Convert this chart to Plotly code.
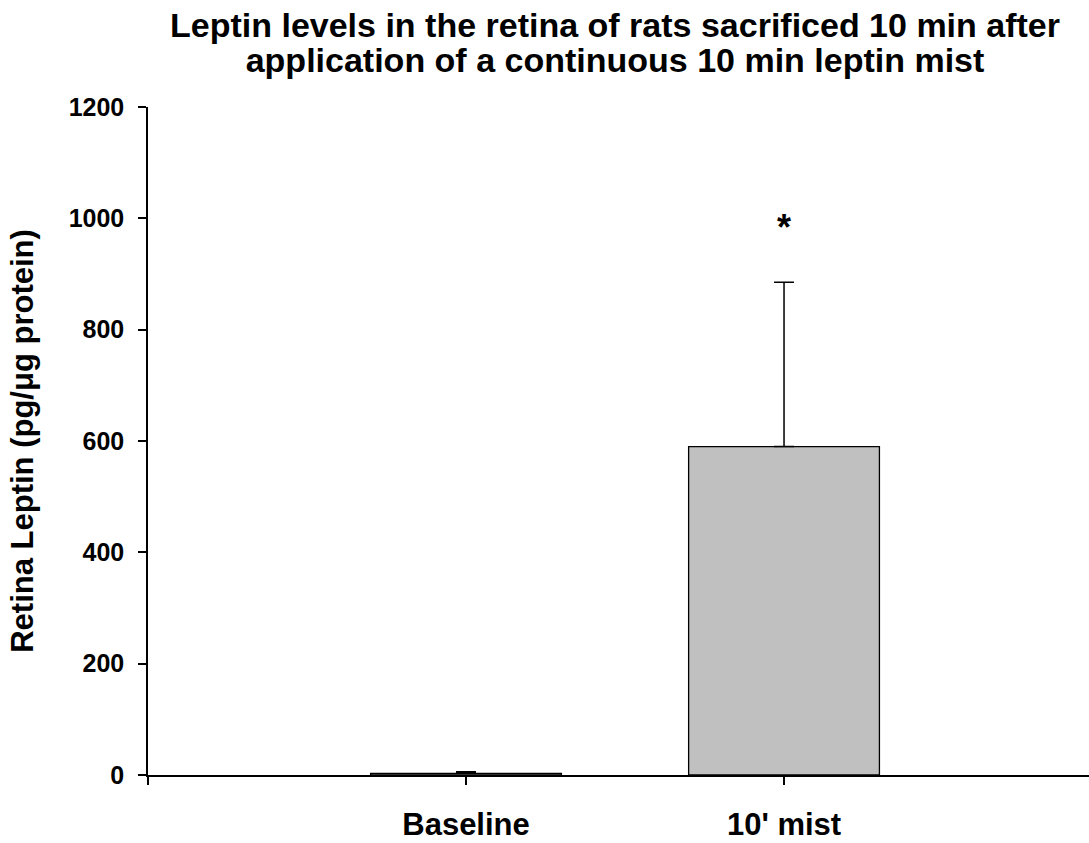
import plotly.graph_objects as go

categories = ["Baseline", "10' mist"]
means = [3, 590]
sem = [3, 295]
significance = ["", "*"]

title_lines = ["Leptin levels in the retina of rats sacrificed 10 min after",
               "application of a continuous 10 min leptin mist"]
y_title = "Retina Leptin (pg/\u03bcg protein)"
y_ticks = [0, 200, 400, 600, 800, 1000, 1200]

FONT = "Arial, 'Liberation Sans', sans-serif"
positions = list(range(len(categories)))

fig = go.Figure()
fig.add_trace(go.Bar(
    x=positions, y=means, width=0.6,
    marker=dict(color="#c0c0c0", line=dict(color="black", width=1.3)),
    error_y=dict(type="data", symmetric=False, array=sem,
                 arrayminus=[0] * len(sem), color="black",
                 thickness=1.5, width=10),
    showlegend=False, hoverinfo="skip",
))

for i, s in enumerate(significance):
    if s:
        fig.add_annotation(x=positions[i], y=means[i] + sem[i] + 98,
                           text="<b>" + s + "</b>",
                           showarrow=False, yanchor="middle",
                           font=dict(family=FONT, size=36, color="black"))

title_html = "<br>".join(
    '<span style="font-size:34px"><b>' + t + "</b></span>" for t in title_lines)

fig.update_layout(
    template="none",
    width=1089, height=843,
    margin=dict(l=148, r=0, t=107, b=68),
    paper_bgcolor="white", plot_bgcolor="white",
    font=dict(family=FONT, color="black"),
    title=dict(text=title_html, x=615 / 1089, xanchor="center",
               xref="container", y=1 - 37 / 843, yanchor="top", yref="container",
               font=dict(family=FONT, size=27, color="black")),
    xaxis=dict(range=[-1, 1.959], tickvals=[-1] + positions,
               ticktext=[""] + ["<b>" + c + "</b>" for c in categories],
               showline=True, linecolor="black", linewidth=1.5,
               ticks="outside", ticklen=8, tickwidth=1.5, tickcolor="black",
               showgrid=False, zeroline=False, ticklabelstandoff=13,
               automargin=False,
               tickfont=dict(family=FONT, size=31, color="black")),
    yaxis=dict(range=[0, 1200], tickvals=y_ticks,
               ticktext=["<b>%d</b>" % v for v in y_ticks],
               showline=True, linecolor="black", linewidth=1.5,
               ticks="outside", ticklen=8, tickwidth=1.5, tickcolor="black",
               showgrid=False, zeroline=False, ticklabelstandoff=9,
               automargin=False,
               tickfont=dict(family=FONT, size=25, color="black"),
               title=dict(text="<b>" + y_title + "</b>", standoff=26,
                          font=dict(family=FONT, size=31, color="black"))),
)

fig.write_html("out.html")
